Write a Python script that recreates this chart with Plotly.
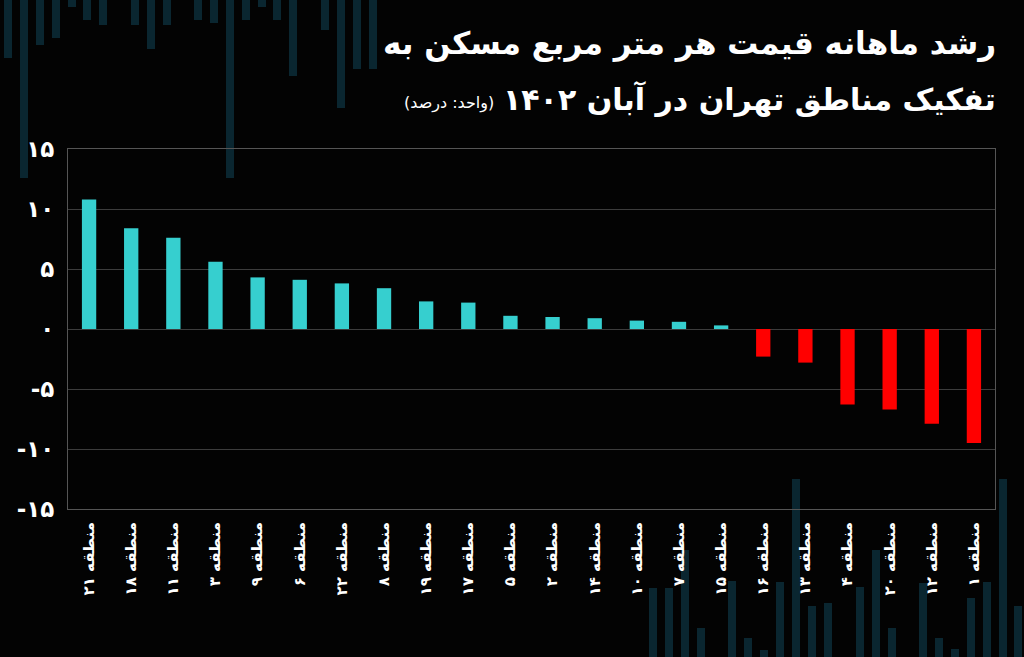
import plotly.graph_objects as go

# monthly change in price per square metre, Tehran districts, Aban 1402 (percent)
districts = ["منطقه ۲۱", "منطقه ۱۸", "منطقه ۱۱", "منطقه ۳", "منطقه ۹", "منطقه ۶",
             "منطقه ۲۲", "منطقه ۸", "منطقه ۱۹", "منطقه ۱۷", "منطقه ۵", "منطقه ۲",
             "منطقه ۱۴", "منطقه ۱۰", "منطقه ۷", "منطقه ۱۵", "منطقه ۱۶", "منطقه ۱۳",
             "منطقه ۴", "منطقه ۲۰", "منطقه ۱۲", "منطقه ۱"]
growth = [10.8, 8.4, 7.6, 5.6, 4.3, 4.1, 3.8, 3.4, 2.3, 2.2, 1.1, 1.0,
          0.9, 0.7, 0.6, 0.3, -2.3, -2.8, -6.3, -6.7, -7.9, -9.5]

y_ticks = [15, 10, 5, 0, -5, -10, -15]
y_tick_labels = ["۱۵", "۱۰", "۵", "۰", "-۵", "-۱۰", "-۱۵"]

# faint background pattern (page pixels)
deco_top_x = [8, 24, 40, 56, 72, 87, 103, 135, 151, 167, 198, 214, 230, 246,
              262, 277, 293, 325, 341, 357, 373]
deco_top_len = [58, 178, 45, 38, 7, 20, 25, 25, 49, 25, 20, 23, 178, 20,
                7, 20, 76, 30, 108, 69, 69]
deco_bot_x = [653, 669, 685, 701, 732, 748, 764, 780, 796, 812, 828, 860,
              876, 892, 923, 939, 955, 971, 987, 1003, 1018]
deco_bot_len = [69, 69, 107, 29, 76, 19, 7, 75, 178, 51, 54, 70,
                107, 29, 74, 19, 8, 59, 75, 178, 51]

W, H = 1024, 657
FONT = "DejaVu Sans"
BG = "#030303"
bar_colors = ["#36CFCF" if v >= 0 else "#FF0000" for v in growth]

fig = go.Figure()

fig.add_trace(go.Bar(x=deco_top_x, y=deco_top_len, base=0, width=8,
                     marker=dict(color="#0a2630", line_width=0),
                     xaxis="x", yaxis="y", hoverinfo="skip", showlegend=False))
fig.add_trace(go.Bar(x=deco_bot_x, y=[-v for v in deco_bot_len], base=H, width=8,
                     marker=dict(color="#0a2630", line_width=0),
                     xaxis="x", yaxis="y", hoverinfo="skip", showlegend=False))

fig.add_trace(go.Bar(x=districts, y=growth, marker=dict(color=bar_colors, line_width=0),
                     xaxis="x2", yaxis="y2", showlegend=False))

fig.update_layout(
    width=W, height=H, autosize=False,
    margin=dict(l=0, r=0, t=0, b=0, pad=0),
    paper_bgcolor=BG, plot_bgcolor="rgba(0,0,0,0)",
    bargap=0.66,
    font=dict(family=FONT, color="white"),
    xaxis=dict(domain=[0, 1], range=[0, W], visible=False, fixedrange=True,
               automargin=False),
    yaxis=dict(domain=[0, 1], range=[H, 0], visible=False, fixedrange=True,
               automargin=False),
    xaxis2=dict(domain=[68 / W, 995 / W], anchor="y2", tickangle=-90,
                tickfont=dict(size=15, color="white", weight="bold"), showgrid=False,
                showline=True, mirror=True, linecolor="#555555", linewidth=1,
                ticks="", ticklabelstandoff=6, automargin=False),
    yaxis2=dict(domain=[1 - 509 / H, 1 - 149 / H], anchor="x2", range=[-15, 15],
                tickvals=y_ticks, ticktext=y_tick_labels,
                tickfont=dict(size=23, color="white", weight="bold"),
                gridcolor="#3c3c3c", gridwidth=1, zeroline=True,
                zerolinecolor="#3c3c3c", zerolinewidth=1,
                showline=True, mirror=True, linecolor="#555555", linewidth=1,
                ticks="", ticklabelstandoff=8, automargin=False),
    annotations=[
        dict(text="رشد ماهانه قیمت هر متر مربع مسکن به", x=998, y=43,
             xref="x", yref="y", xanchor="right", yanchor="middle", showarrow=False,
             font=dict(size=31, color="white", weight="bold")),
        dict(text="تفکیک مناطق تهران در آبان ۱۴۰۲", x=998, y=99,
             xref="x", yref="y", xanchor="right", yanchor="middle", showarrow=False,
             font=dict(size=30, color="white", weight="bold")),
        dict(text="(واحد: درصد)", x=496, y=103,
             xref="x", yref="y", xanchor="right", yanchor="middle", showarrow=False,
             font=dict(size=16, color="white")),
    ],
)

fig.write_html("out.html", config={"displayModeBar": False}, post_script=(
    "document.body.style.margin='0';"
    "document.body.style.background='" + BG + "';"
    "document.body.style.overflow='hidden';"))
